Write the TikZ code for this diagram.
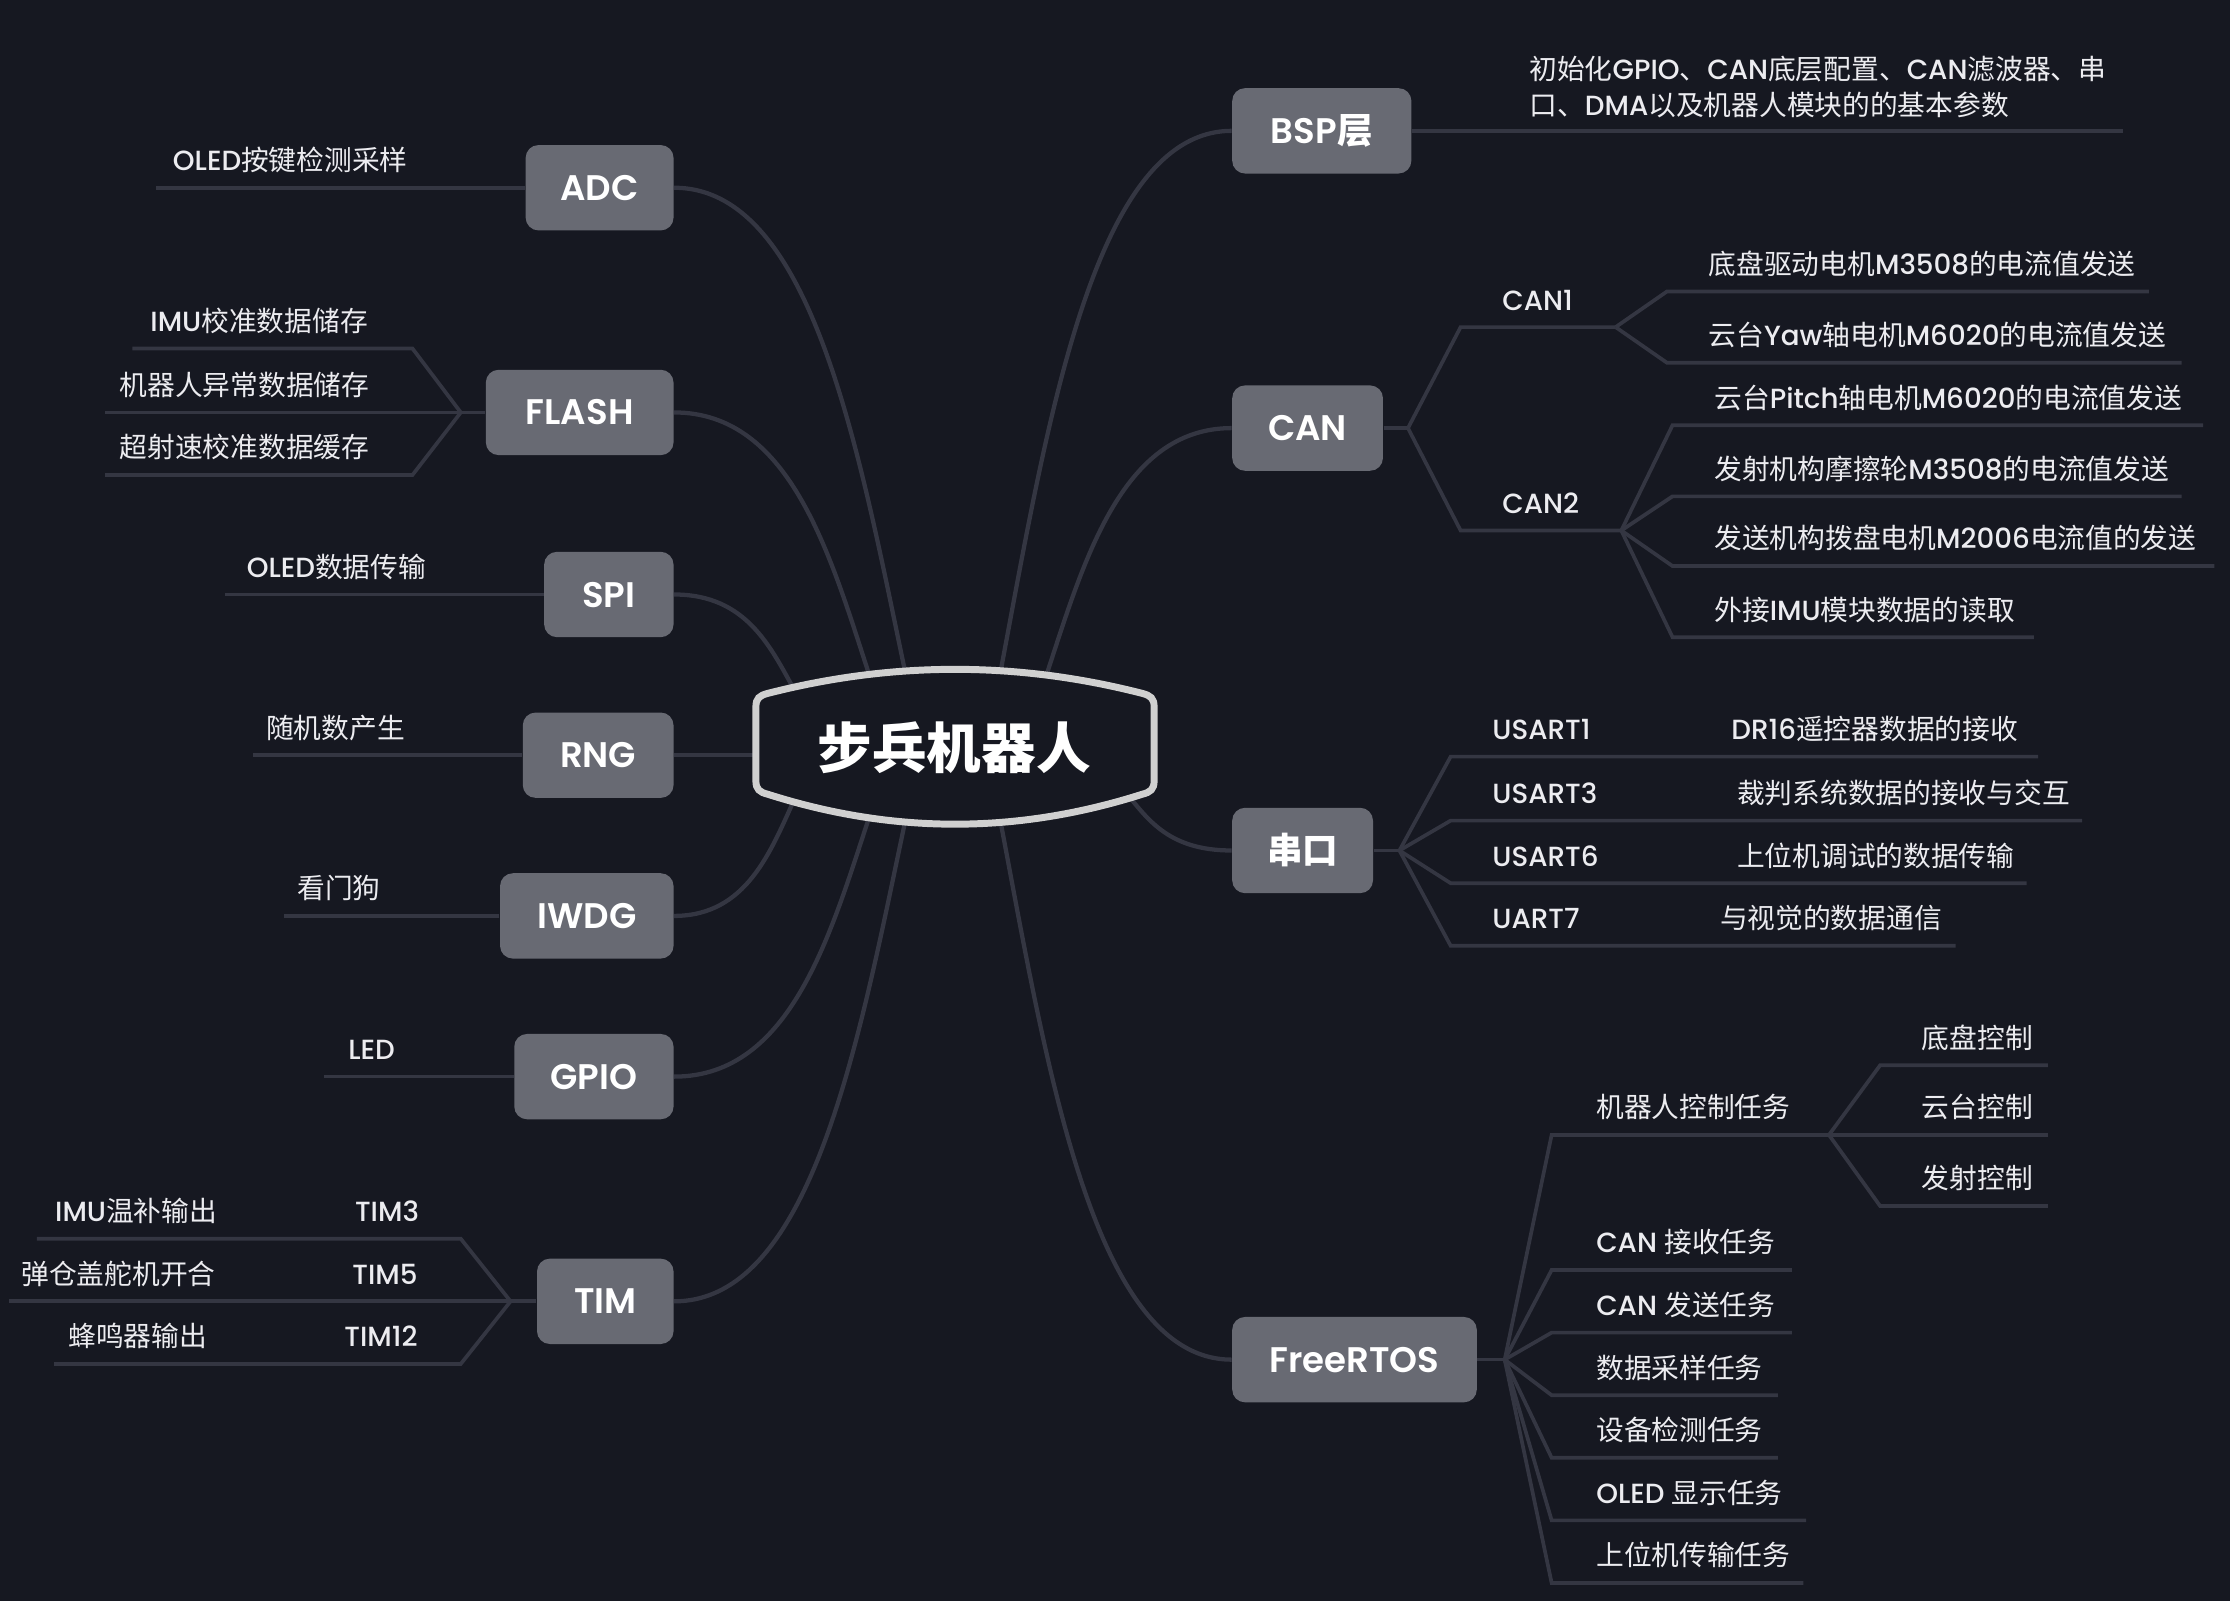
\documentclass[tikz,border=0pt]{standalone}
\usepackage{fontspec}
\setmainfont{Poppins}[UprightFont={* Medium},BoldFont={* SemiBold}]
\newfontfamily\cjkfont{Noto Sans CJK SC}
\usetikzlibrary{calc}
% automatic switch between Latin (Poppins) and CJK (Noto Sans CJK SC)
\XeTeXinterchartokenstate=1
\newXeTeXintercharclass\CJKcls
\newcount\cjkcnt
\cjkcnt="3000
\loop\ifnum\cjkcnt<"3040 \XeTeXcharclass\cjkcnt=\CJKcls \advance\cjkcnt by 1 \repeat
\cjkcnt="4E00
\loop\ifnum\cjkcnt<"A000 \XeTeXcharclass\cjkcnt=\CJKcls \advance\cjkcnt by 1 \repeat
\cjkcnt="FF00
\loop\ifnum\cjkcnt<"FFF0 \XeTeXcharclass\cjkcnt=\CJKcls \advance\cjkcnt by 1 \repeat
\XeTeXinterchartoks 0 \CJKcls = {\cjkfont}
\XeTeXinterchartoks 4095 \CJKcls = {\cjkfont}
\XeTeXinterchartoks \CJKcls 0 = {\rmfamily}
\XeTeXinterchartoks \CJKcls 4095 = {\rmfamily}
\definecolor{bgc}{RGB}{22,24,33}
\definecolor{nodef}{RGB}{104,106,115}
\definecolor{linec}{RGB}{52,54,66}
\definecolor{ctrb}{RGB}{208,208,208}
\definecolor{leafc}{RGB}{236,236,240}
\newcommand\mmcurve[2]{\draw[cn] let \p1=(#1), \p2=(#2) in (\p1) .. controls ({\x1+0.2*(\x2-\x1)},{\y1+0.45*(\y2-\y1)}) and ({\x1+0.4*(\x2-\x1)},{\y2}) .. (\p2);}
\begin{document}
\begin{tikzpicture}[x=0.5pt,y=-0.5pt,
  br/.style={fill=nodef, rounded corners=4.5pt, minimum height=30pt, inner xsep=2pt, inner ysep=0pt, text=white, font=\bfseries\fontsize{12.5}{15}\selectfont, text height=8.8pt, text depth=0pt},
  lf/.style={inner sep=0pt, text=leafc, font=\fontsize{9.75}{12.5}\selectfont},
  ln/.style={draw=linec, line width=1.3pt},
  cn/.style={draw=linec, line width=1.5pt},
  ctr/.style={draw=ctrb, line width=2.45pt, fill=bgc}]
\fill[bgc] (0,0) rectangle (1568,1126);
\useasboundingbox (0,0) rectangle (1568,1126);

% ---------- main branch nodes
\node[br,anchor=east,minimum width=52pt] (adc) at (474,132) {ADC};
\node[br,anchor=east,minimum width=66pt] (flash) at (474,290) {FLASH};
\node[br,anchor=east,minimum width=45.5pt] (spi) at (474,418) {SPI};
\node[br,anchor=east,minimum width=53pt] (rng) at (474,531) {RNG};
\node[br,anchor=east,minimum width=61pt] (iwdg) at (474,644) {IWDG};
\node[br,anchor=east,minimum width=56pt] (gpio) at (474,757) {GPIO};
\node[br,anchor=east,minimum width=48pt] (tim) at (474,915) {TIM};
\node[br,anchor=west,minimum width=63pt] (bsp) at (866,92) {BSP层};
\node[br,anchor=west,minimum width=53pt] (can) at (866,301) {CAN};
\node[br,anchor=west,minimum width=49.5pt] (uart) at (866,598) {串口};
\node[br,anchor=west,minimum width=86pt] (rtos) at (866,956) {FreeRTOS};

% ---------- left leaves
\node[lf,anchor=base east] (adc1) at (287,120) {OLED按键检测采样};
\coordinate (adc1e) at (110,132);
\draw[ln] (adc.west) -- (adc1e);

\coordinate (flj) at (324,290);
\coordinate (fl1b) at (290,245); \coordinate (fl1e) at (93,245);
\coordinate (fl2e) at (74,290);
\coordinate (fl3b) at (290,334); \coordinate (fl3e) at (74,334);
\draw[ln] (flash.west) -- (flj);
\draw[ln] (flj) -- (fl1b) -- (fl1e);
\draw[ln] (flj) -- (fl2e);
\draw[ln] (flj) -- (fl3b) -- (fl3e);
\node[lf,anchor=base east] (fl1) at (259,233) {IMU校准数据储存};
\node[lf,anchor=base east] (fl2) at (260,278) {机器人异常数据储存};
\node[lf,anchor=base east] (fl3) at (260,322) {超射速校准数据缓存};

\node[lf,anchor=base east] (spi1) at (300,406) {OLED数据传输};
\coordinate (spi1e) at (158,418);
\draw[ln] (spi.west) -- (spi1e);
\node[lf,anchor=base east] (rng1) at (285,519) {随机数产生};
\coordinate (rng1e) at (178,531);
\draw[ln] (rng.west) -- (rng1e);
\node[lf,anchor=base east] (iwdg1) at (268,632) {看门狗};
\coordinate (iwdg1e) at (200,644);
\draw[ln] (iwdg.west) -- (iwdg1e);
\node[lf,anchor=base east] (gpio1) at (278,745) {LED};
\coordinate (gpio1e) at (228,757);
\draw[ln] (gpio.west) -- (gpio1e);

\coordinate (timj) at (359,915);
\coordinate (t3b) at (324,871); \coordinate (t3e) at (26,871);
\coordinate (t5e) at (6,915);
\coordinate (t12b) at (324,959); \coordinate (t12e) at (38,959);
\draw[ln] (tim.west) -- (timj);
\draw[ln] (timj) -- (t3b) -- (t3e);
\draw[ln] (timj) -- (t5e);
\draw[ln] (timj) -- (t12b) -- (t12e);
\node[lf,anchor=base east] (t3) at (295,859) {TIM3};
\node[lf,anchor=base east] (t31) at (153,859) {IMU温补输出};
\node[lf,anchor=base east] (t5) at (294,903) {TIM5};
\node[lf,anchor=base east] (t51) at (152,903) {弹仓盖舵机开合};
\node[lf,anchor=base east] (t12) at (294,947) {TIM12};
\node[lf,anchor=base east] (t121) at (146,947) {蜂鸣器输出};

% ---------- right leaves
\node[lf,anchor=base west,align=left] (bsp1) at (1075,81) {初始化GPIO、CAN底层配置、CAN滤波器、串\\口、DMA以及机器人模块的的基本参数};
\coordinate (bsp1e) at (1493,92);
\draw[ln] (bsp.east) -- (bsp1e);

\coordinate (canj) at (990,301);
\draw[ln] (can.east) -- (canj);
\coordinate (can1s) at (1027,230); \coordinate (can1j) at (1136,230);
\coordinate (can2s) at (1027,373); \coordinate (can2j) at (1140,373);
\draw[ln] (canj) -- (can1s) -- (can1j);
\draw[ln] (canj) -- (can2s) -- (can2j);
\node[lf,anchor=base west] (can1) at (1056,218) {CAN1};
\node[lf,anchor=base west] (can2) at (1056,361) {CAN2};
\coordinate (c11b) at (1172,205); \coordinate (c11e) at (1511,205);
\coordinate (c12b) at (1172,255); \coordinate (c12e) at (1534,255);
\draw[ln] (can1j) -- (c11b) -- (c11e);
\draw[ln] (can1j) -- (c12b) -- (c12e);
\node[lf,anchor=base west] (c11) at (1201,193) {底盘驱动电机M3508的电流值发送};
\node[lf,anchor=base west] (c12) at (1201,243) {云台Yaw轴电机M6020的电流值发送};
\coordinate (c21b) at (1176,299); \coordinate (c21e) at (1549,299);
\coordinate (c22b) at (1176,349); \coordinate (c22e) at (1534,349);
\coordinate (c23b) at (1176,398); \coordinate (c23e) at (1557,398);
\coordinate (c24b) at (1176,448); \coordinate (c24e) at (1430,448);
\draw[ln] (can2j) -- (c21b) -- (c21e);
\draw[ln] (can2j) -- (c22b) -- (c22e);
\draw[ln] (can2j) -- (c23b) -- (c23e);
\draw[ln] (can2j) -- (c24b) -- (c24e);
\node[lf,anchor=base west] (c21) at (1205,287) {云台Pitch轴电机M6020的电流值发送};
\node[lf,anchor=base west] (c22) at (1205,337) {发射机构摩擦轮M3508的电流值发送};
\node[lf,anchor=base west] (c23) at (1205,386) {发送机构拨盘电机M2006电流值的发送};
\node[lf,anchor=base west] (c24) at (1205,436) {外接IMU模块数据的读取};

\coordinate (uartj) at (984,598);
\draw[ln] (uart.east) -- (uartj);
\coordinate (u1b) at (1020,532); \coordinate (u1e) at (1433,532);
\coordinate (u3b) at (1020,577); \coordinate (u3e) at (1464,577);
\coordinate (u6b) at (1020,621); \coordinate (u6e) at (1425,621);
\coordinate (u7b) at (1020,665); \coordinate (u7e) at (1375,665);
\draw[ln] (uartj) -- (u1b) -- (u1e);
\draw[ln] (uartj) -- (u3b) -- (u3e);
\draw[ln] (uartj) -- (u6b) -- (u6e);
\draw[ln] (uartj) -- (u7b) -- (u7e);
\node[lf,anchor=base west] (u1) at (1049,520) {USART1};
\node[lf,anchor=base west] (u3) at (1049,565) {USART3};
\node[lf,anchor=base west] (u6) at (1049,609) {USART6};
\node[lf,anchor=base west] (u7) at (1049,653) {UART7};
\node[lf,anchor=base west] (u11) at (1217,520) {DR16遥控器数据的接收};
\node[lf,anchor=base west] (u31) at (1221,565) {裁判系统数据的接收与交互};
\node[lf,anchor=base west] (u61) at (1221,609) {上位机调试的数据传输};
\node[lf,anchor=base west] (u71) at (1209,653) {与视觉的数据通信};

\coordinate (rtosj) at (1058,956);
\draw[ln] (rtos.east) -- (rtosj);
\coordinate (r1b) at (1091,798); \coordinate (ctlj) at (1286,798);
\coordinate (r2b) at (1091,893); \coordinate (r2e) at (1260,893);
\coordinate (r3b) at (1091,937); \coordinate (r3e) at (1260,937);
\coordinate (r4b) at (1091,981); \coordinate (r4e) at (1250,981);
\coordinate (r5b) at (1091,1025); \coordinate (r5e) at (1250,1025);
\coordinate (r6b) at (1091,1069); \coordinate (r6e) at (1270,1069);
\coordinate (r7b) at (1091,1113); \coordinate (r7e) at (1268,1113);
\draw[ln] (rtosj) -- (r1b) -- (ctlj);
\draw[ln] (rtosj) -- (r2b) -- (r2e);
\draw[ln] (rtosj) -- (r3b) -- (r3e);
\draw[ln] (rtosj) -- (r4b) -- (r4e);
\draw[ln] (rtosj) -- (r5b) -- (r5e);
\draw[ln] (rtosj) -- (r6b) -- (r6e);
\draw[ln] (rtosj) -- (r7b) -- (r7e);
\node[lf,anchor=base west] (r1) at (1122,786) {机器人控制任务};
\node[lf,anchor=base west] (r2) at (1122,881) {CAN 接收任务};
\node[lf,anchor=base west] (r3) at (1122,925) {CAN 发送任务};
\node[lf,anchor=base west] (r4) at (1122,969) {数据采样任务};
\node[lf,anchor=base west] (r5) at (1122,1013) {设备检测任务};
\node[lf,anchor=base west] (r6) at (1122,1057) {OLED 显示任务};
\node[lf,anchor=base west] (r7) at (1122,1101) {上位机传输任务};
\coordinate (k1b) at (1322,749); \coordinate (k1e) at (1440,749);
\coordinate (k2e) at (1440,798);
\coordinate (k3b) at (1322,848); \coordinate (k3e) at (1440,848);
\draw[ln] (ctlj) -- (k1b) -- (k1e);
\draw[ln] (ctlj) -- (k2e);
\draw[ln] (ctlj) -- (k3b) -- (k3e);
\node[lf,anchor=base west] (k1) at (1351,737) {底盘控制};
\node[lf,anchor=base west] (k2) at (1351,786) {云台控制};
\node[lf,anchor=base west] (k3) at (1351,836) {发射控制};

% ---------- connectors from the central topic
\coordinate (sADC) at (637,475);
\coordinate (sFLASH) at (612,477);
\coordinate (sSPI) at (559,486);
\coordinate (sRNG) at (534,531);
\coordinate (sIWDG) at (559,561);
\coordinate (sGPIO) at (612,572);
\coordinate (sTIM) at (637,575);
\coordinate (sBSP) at (703,475);
\coordinate (sCAN) at (735,477);
\coordinate (sUART) at (793,559);
\coordinate (sRTOS) at (703,575);
\mmcurve{sADC}{adc.east}
\mmcurve{sFLASH}{flash.east}
\mmcurve{sSPI}{spi.east}
\draw[cn] (rng.east) -- (sRNG);
\mmcurve{sIWDG}{iwdg.east}
\mmcurve{sGPIO}{gpio.east}
\mmcurve{sTIM}{tim.east}
\mmcurve{sBSP}{bsp.west}
\mmcurve{sCAN}{can.west}
\mmcurve{sUART}{uart.west}
\mmcurve{sRTOS}{rtos.west}

% ---------- central topic
\draw[ctr] (531.5,497) -- (531.5,549)
  .. controls (531.5,555) and (534,557) .. (540,558.5)
  .. controls (628,586.5) and (715,586.5) .. (803,558.5)
  .. controls (809,557) and (811.5,555) .. (811.5,549)
  -- (811.5,497)
  .. controls (811.5,491) and (809,489) .. (803,487.5)
  .. controls (715,465) and (628,465) .. (540,487.5)
  .. controls (534,489) and (531.5,491) .. (531.5,497) -- cycle;
\node[text=white, font=\bfseries\fontsize{19.2}{22}\selectfont] (root) at (671,526) {步兵机器人};
\end{tikzpicture}
\end{document}
